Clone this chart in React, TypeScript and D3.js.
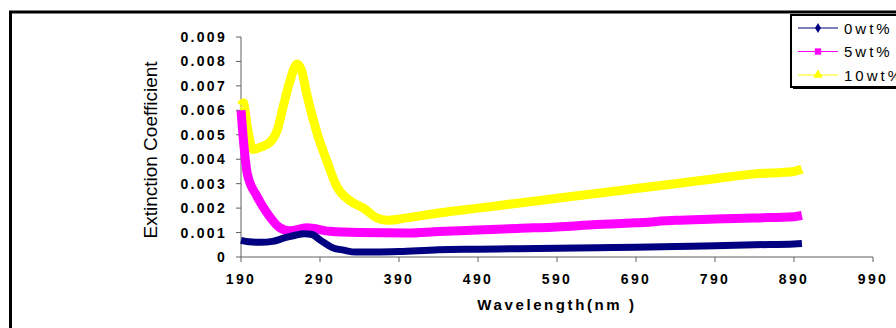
import * as d3 from "d3";
import { useEffect, useRef } from "react";

// wavelength (nm) and extinction coefficient per sample
const wl0 = [190, 200, 215, 230, 245, 260, 270, 280, 290, 306, 320, 335, 360, 390, 440, 490, 540, 590, 640, 690, 740, 790, 840, 890, 900];
const k0 = [0.00068, 0.00062, 0.0006, 0.00064, 0.00078, 0.0009, 0.00095, 0.00092, 0.0007, 0.00038, 0.00028, 0.0002, 0.0002, 0.00022, 0.0003, 0.00032, 0.00034, 0.00036, 0.00038, 0.0004, 0.00043, 0.00046, 0.0005, 0.00053, 0.00055];

const wl5 = [190, 193, 198, 210, 223, 239, 252, 273, 303, 340, 400, 440, 490, 540, 590, 640, 690, 740, 790, 840, 890, 900];
const k5 = [0.006, 0.0048, 0.0034, 0.0025, 0.0018, 0.0012, 0.00107, 0.0012, 0.00105, 0.001, 0.00098, 0.00104, 0.0011, 0.00117, 0.00123, 0.00133, 0.0014, 0.0015, 0.00155, 0.0016, 0.00165, 0.0017];

const wl10 = [190, 193, 198, 205, 215, 227, 236, 243, 252, 261, 267, 273, 286, 299, 311, 328, 345, 362, 375, 400, 440, 490, 540, 590, 640, 690, 740, 790, 840, 890, 900];
const k10 = [0.0062, 0.0063, 0.0053, 0.0044, 0.0045, 0.0047, 0.0052, 0.0061, 0.0072, 0.0079, 0.0076, 0.0067, 0.0051, 0.0039, 0.0029, 0.0023, 0.002, 0.0016, 0.0015, 0.0016, 0.0018, 0.002, 0.0022, 0.0024, 0.0026, 0.0028, 0.003, 0.0032, 0.0034, 0.0035, 0.0036];

const seriesNames = ["0wt%", "5wt%", "10wt%"];
const seriesColors = ["#000080", "#ff00ff", "#ffff00"];
const xTicks = [190, 290, 390, 490, 590, 690, 790, 890, 990];
const yTicks = [0, 0.001, 0.002, 0.003, 0.004, 0.005, 0.006, 0.007, 0.008, 0.009];

const W = 896;
const H = 328;

const App = () => {
  const svgRef = useRef<SVGSVGElement>(null);

  useEffect(() => {
    const svg = d3.select(svgRef.current).attr("width", W).attr("height", H);
    svg.selectAll("*").remove();

    const font = "Arial, 'Liberation Sans', sans-serif";
    const x = d3.scaleLinear().domain([190, 990]).range([241, 873]);
    const y = d3.scaleLinear().domain([0, 0.009]).range([257, 37]);

    // outer frame
    svg.append("rect").attr("width", W).attr("height", H).attr("fill", "#fff");
    svg
      .append("path")
      .attr("d", `M10.5,${H + 5}V12H${W + 5}`)
      .attr("fill", "none")
      .attr("stroke", "#000")
      .attr("stroke-width", 3);

    // axes
    const gx = svg.append("g").attr("transform", `translate(0,${y(0)})`);
    gx.append("line").attr("x1", x(190)).attr("x2", x(990)).attr("stroke", "#606060");
    gx.selectAll("line.tick")
      .data(xTicks)
      .join("line")
      .attr("class", "tick")
      .attr("x1", (d) => x(d))
      .attr("x2", (d) => x(d))
      .attr("y1", 0)
      .attr("y2", 5)
      .attr("stroke", "#606060");
    gx.selectAll("text")
      .data(xTicks)
      .join("text")
      .attr("x", (d) => x(d))
      .attr("y", 27)
      .attr("text-anchor", "middle")
      .attr("font-family", font)
      .attr("font-weight", "bold")
      .attr("font-size", 14)
      .attr("letter-spacing", 2.3)
      .attr("fill", "#000")
      .text((d) => d);

    const gy = svg.append("g").attr("transform", `translate(${x(190)},0)`);
    gy.append("line").attr("y1", y(0)).attr("y2", y(0.009)).attr("stroke", "#606060");
    gy.selectAll("line.tick")
      .data(yTicks)
      .join("line")
      .attr("class", "tick")
      .attr("x1", -5)
      .attr("x2", 0)
      .attr("y1", (d) => y(d))
      .attr("y2", (d) => y(d))
      .attr("stroke", "#606060");
    gy.selectAll("text")
      .data(yTicks)
      .join("text")
      .attr("x", -14)
      .attr("y", (d) => y(d) + 5)
      .attr("text-anchor", "end")
      .attr("font-family", font)
      .attr("font-weight", "bold")
      .attr("font-size", 14)
      .attr("letter-spacing", 2.3)
      .attr("fill", "#000")
      .text((d) => (d === 0 ? "0" : d3.format(".3f")(d)));

    // titles
    svg
      .append("text")
      .attr("transform", "translate(157,150) rotate(-90)")
      .attr("text-anchor", "middle")
      .attr("font-family", font)
      .attr("font-size", 19)
      .attr("fill", "#000")
      .text("Extinction Coefficient");
    svg
      .append("text")
      .attr("x", 557)
      .attr("y", 310)
      .attr("text-anchor", "middle")
      .attr("font-family", font)
      .attr("font-weight", "bold")
      .attr("font-size", 15)
      .attr("letter-spacing", 2.6)
      .attr("fill", "#000")
      .text("Wavelength(nm )");

    // series
    const series = [
      { xs: wl0, ks: k0 },
      { xs: wl5, ks: k5 },
      { xs: wl10, ks: k10 },
    ];
    const line = d3
      .line<[number, number]>()
      .x((d) => x(d[0]))
      .y((d) => y(d[1]))
      .curve(d3.curveMonotoneX);
    [2, 1, 0].forEach((i) => {
      const pts = series[i].xs.map((w, j) => [w, series[i].ks[j]] as [number, number]);
      svg
        .append("path")
        .attr("d", line(pts))
        .attr("fill", "none")
        .attr("stroke", seriesColors[i])
        .attr("stroke-width", i === 0 ? 7 : 9)
        .attr("stroke-linejoin", "round");
    });

    // legend
    const lg = svg.append("g");
    lg.append("rect")
      .attr("x", 793)
      .attr("y", 17)
      .attr("width", 120)
      .attr("height", 72)
      .attr("fill", "#000");
    lg.append("rect")
      .attr("x", 791)
      .attr("y", 15)
      .attr("width", 120)
      .attr("height", 72)
      .attr("fill", "#fff")
      .attr("stroke", "#000")
      .attr("stroke-width", 2);
    seriesNames.forEach((name, i) => {
      const cy = 28 + i * 23.5;
      lg.append("line")
        .attr("x1", 798)
        .attr("x2", 838)
        .attr("y1", cy)
        .attr("y2", cy)
        .attr("stroke", seriesColors[i])
        .attr("stroke-width", 1);
      const sym = [d3.symbolDiamond, d3.symbolSquare, d3.symbolTriangle][i];
      lg.append("path")
        .attr("d", d3.symbol(sym, i === 0 ? 30 : 40)())
        .attr("transform", `translate(818,${cy})`)
        .attr("fill", seriesColors[i]);
      lg.append("text")
        .attr("x", 844)
        .attr("y", cy + 5.5)
        .attr("font-family", font)
        .attr("font-size", 15)
        .attr("letter-spacing", 3)
        .attr("fill", "#000")
        .text(name);
    });
  }, []);

  return (
    <div style={{ position: "absolute", left: 0, top: 0 }}>
      <svg ref={svgRef} style={{ display: "block" }}></svg>
    </div>
  );
};

export default App;
